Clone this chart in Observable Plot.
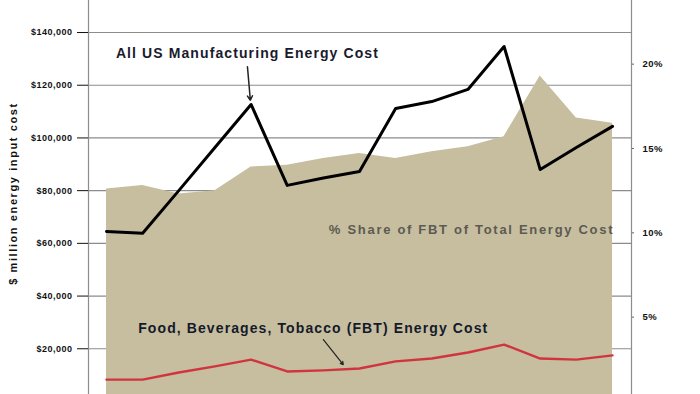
<!DOCTYPE html>
<html>
<head>
<meta charset="utf-8">
<script src="https://cdn.jsdelivr.net/npm/d3@7"></script>
<script src="https://cdn.jsdelivr.net/npm/@observablehq/plot@0.6"></script>
<style>
  html, body { margin: 0; padding: 0; background: #fff; overflow: hidden; }
  #chart svg { display: block; }
</style>
</head>
<body>
<div id="chart"></div>
<script>
// Data (years inferred, x axis is not visible)
const years = [1997, 1998, 1999, 2000, 2001, 2002, 2003, 2004, 2005, 2006, 2007, 2008, 2009, 2010, 2011];
// All US manufacturing energy cost ($ million)
const allMfg = [64500, 63800, 80000, 96400, 112700, 82000, 84800, 87300, 111200, 113800, 118400, 134700, 88000, 96400, 104400];
// Food, Beverages, Tobacco energy cost ($ million)
const fbt = [8300, 8300, 11000, 13300, 15900, 11400, 11800, 12500, 15200, 16300, 18600, 21600, 16300, 15900, 17500];
// % share of FBT of total energy cost
const share = [12.6, 12.8, 12.3, 12.5, 13.9, 14.0, 14.4, 14.7, 14.4, 14.8, 15.1, 15.7, 19.3, 16.8, 16.5];

const leftTicks = [20000, 40000, 60000, 80000, 100000, 120000, 140000];
const rightTicks = [5, 10, 15, 20];
const pctUnit = 6400; // $ per 1% on the shared vertical scale

const labelMfg = "All US Manufacturing Energy Cost";
const labelShare = "% Share of FBT of Total Energy Cost";
const labelFbt = "Food, Beverages, Tobacco (FBT) Energy Cost";
const labelAxis = "$ million energy input cost";

const rows = years.map((y, i) => ({year: y, mfg: allMfg[i], fbt: fbt[i], share: share[i]}));

const chart = Plot.plot({
  width: 700,
  height: 394,
  marginLeft: 88,
  marginRight: 69,
  marginTop: -3,
  marginBottom: -3,
  style: {background: "#fff", fontFamily: "Arial, 'Liberation Sans', sans-serif", overflow: "hidden"},
  x: {domain: [1997, 2011], range: [106, 612], axis: null},
  y: {domain: [2650, 152150], range: [394, 0], axis: null},
  marks: [
    Plot.gridY(leftTicks, {stroke: "#8c8c8c", strokeOpacity: 1, strokeWidth: 1.2}),
    Plot.areaY(rows, {x: "year", y1: 0, y2: d => d.share * pctUnit, fill: "#C6BE9F", clip: true, curve: "linear"}),
    Plot.frame({stroke: "#8c8c8c", strokeWidth: 1.2}),
    Plot.axisY(leftTicks, {
      anchor: "left", tickSize: 11, tickPadding: 5, stroke: "#111",
      tickFormat: d => "$" + d3.format(",")(d),
      fontSize: 9, fontWeight: "bold", fill: "#111", label: null
    }),
    Plot.axisY(rightTicks.map(p => p * pctUnit), {
      anchor: "right", tickSize: 2, tickPadding: 9, stroke: "#666",
      tickFormat: d => Math.round(d / pctUnit) + "%",
      fontSize: 9.5, fontWeight: "bold", fill: "#111", label: null, textAnchor: "start"
    }),
    Plot.line(rows, {x: "year", y: "mfg", stroke: "#000", strokeWidth: 3, clip: true}),
    Plot.line(rows, {x: "year", y: "fbt", stroke: "#D0343F", strokeWidth: 2.4, clip: true}),
    Plot.text([labelMfg], {
      x: 2000.9, y: 132200, text: d => d, fontSize: 14, fontWeight: "bold", fill: "#1a1a2e"
    }),
    Plot.arrow([0], {x1: 2000.9, y1: 127000, x2: 2000.98, y2: 114300, stroke: "#222", strokeWidth: 1.5, headLength: 5}),
    Plot.text([labelShare], {
      x: 2007.1, y: 65300, text: d => d, fontSize: 13, fontWeight: "bold", fill: "#5c5a52"
    }),
    Plot.text([labelFbt], {
      x: 2002.72, y: 27700, text: d => d, fontSize: 14, fontWeight: "bold", fill: "#151a2a"
    }),
    Plot.arrow([0], {x1: 2003.0, y1: 23500, x2: 2003.55, y2: 14000, stroke: "#222", strokeWidth: 1.2, headLength: 4}),
    Plot.text([labelAxis], {
      frameAnchor: "left", dx: -75, y: 78900, rotate: -90, textAnchor: "middle", text: d => d,
      fontSize: 11, fontWeight: "bold", fill: "#111"
    })
  ]
});

// letter spacing to match the wide, stretched lettering of the reference
const spacing = new Map([[labelMfg, "1.1px"], [labelShare, "1.7px"], [labelFbt, "1.1px"], [labelAxis, "1.6px"]]);
d3.select(chart).selectAll("text").each(function() {
  const t = this.textContent;
  if (spacing.has(t)) d3.select(this).style("letter-spacing", spacing.get(t));
  else if (/^\$\d|%$/.test(t)) d3.select(this).style("letter-spacing", "0.5px");
});
document.getElementById("chart").appendChild(chart);
</script>
</body>
</html>
